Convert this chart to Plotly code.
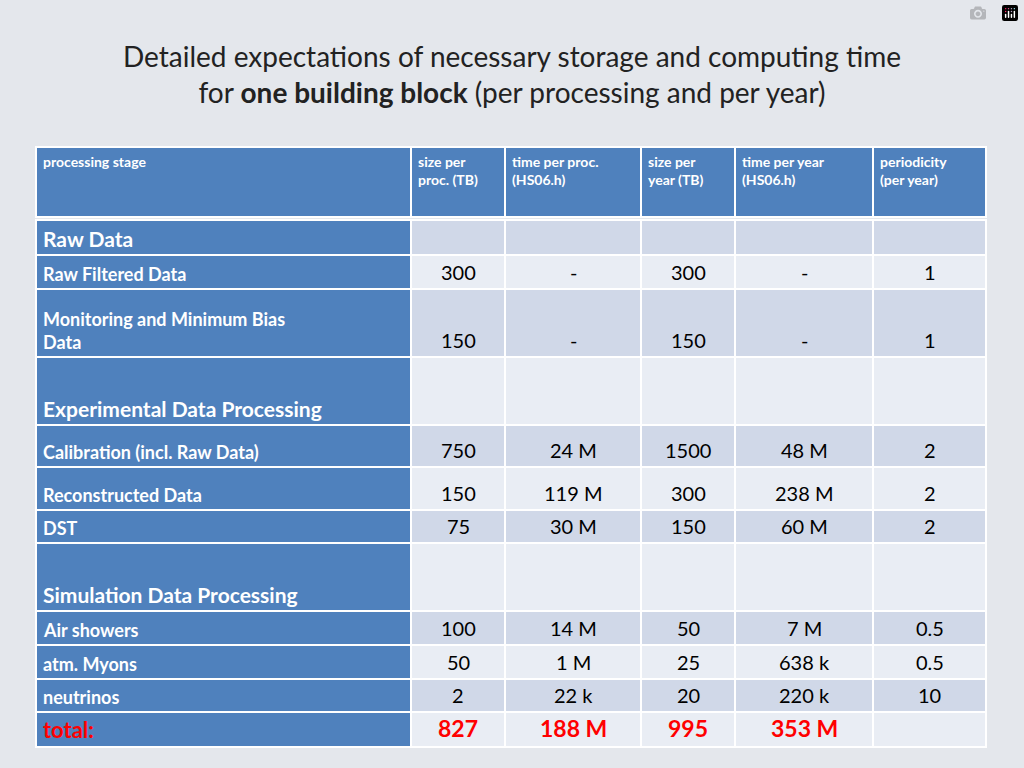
import plotly.graph_objects as go

# ---- data ----
TITLE1 = "Detailed expectations of necessary storage and computing time"
TITLE2 = "for <b>one building block</b> (per processing and per year)"
HEADERS = ["processing stage", "size per<br>proc. (TB)", "time per proc.<br>(HS06.h)",
           "size per<br>year (TB)", "time per year<br>(HS06.h)", "periodicity<br>(per year)"]
STAGES = ["Raw Data", "Raw Filtered Data", "Monitoring and Minimum Bias<br>Data",
          "Experimental Data Processing", "Calibration (incl. Raw Data)",
          "Reconstructed Data", "DST", "Simulation Data Processing",
          "Air showers", "atm. Myons", "neutrinos", "total:"]
SIZE_PROC = ["", "300", "150", "", "750", "150", "75", "", "100", "50", "2", "827"]
TIME_PROC = ["", "-", "-", "", "24 M", "119 M", "30 M", "", "14 M", "1 M", "22 k", "188 M"]
SIZE_YEAR = ["", "300", "150", "", "1500", "300", "150", "", "50", "25", "20", "995"]
TIME_YEAR = ["", "-", "-", "", "48 M", "238 M", "60 M", "", "7 M", "638 k", "220 k", "353 M"]
PERIOD = ["", "1", "1", "", "2", "2", "2", "", "0.5", "0.5", "10", ""]

# ---- layout (pixels) ----
COLS = [36, 411, 505, 641, 735, 873, 986]
HEAD = (147, 217)
ROWS = [220, 255, 289, 357, 425, 467, 510, 543, 611, 645, 679, 712, 747]
SECTION = {0, 3, 7}
BLUE = "#4f81bd"
FILLS = ["#d0d8e8", "#e9edf4"]

fig = go.Figure()
shapes, ann = [], []

def cell(x0, x1, y0, y1, color):
    shapes.append(dict(type="rect", xref="x", yref="y", x0=x0, x1=x1, y0=y0, y1=y1,
                       fillcolor=color, line=dict(color="white", width=2), layer="below"))

# header
for c in range(6):
    cell(COLS[c], COLS[c + 1], HEAD[0], HEAD[1], BLUE)
    ann.append(dict(x=COLS[c] + 5, y=HEAD[0] + 4, text=f"<b>{HEADERS[c]}</b>", xanchor="left",
                    yanchor="top", align="left", showarrow=False,
                    font=dict(family="Lato", size=14, color="white")))

cols = [SIZE_PROC, TIME_PROC, SIZE_YEAR, TIME_YEAR, PERIOD]
for r, stage in enumerate(STAGES):
    y0, y1 = ROWS[r], ROWS[r + 1]
    cell(COLS[0], COLS[1], y0, y1, BLUE)
    total = stage == "total:"
    size = 21 if r in SECTION else 18
    ann.append(dict(x=COLS[0] + 5, y=y1 - 2, text=f"<b>{stage}</b>", xanchor="left",
                    yanchor="bottom", align="left", showarrow=False,
                    font=dict(family="Lato", size=22 if total else size,
                              color="#ff0000" if total else "white")))
    for c in range(5):
        cell(COLS[c + 1], COLS[c + 2], y0, y1, FILLS[r % 2])
        v = cols[c][r]
        if v:
            ann.append(dict(x=(COLS[c + 1] + COLS[c + 2]) / 2, y=y1 - 3,
                            text=f"<b>{v}</b>" if total else v, xanchor="center",
                            yanchor="bottom", showarrow=False,
                            font=dict(family="Lato", size=23 if total else 20,
                                      color="#ff0000" if total else "black")))

ann.append(dict(x=512, y=74, text=TITLE1 + "<br>" + TITLE2, xanchor="center", yanchor="middle",
                showarrow=False, font=dict(family="Lato", size=28, color="#222222")))

fig.update_layout(width=1024, height=768, margin=dict(l=0, r=0, t=0, b=0),
                  paper_bgcolor="#e4e7ec", plot_bgcolor="#e4e7ec",
                  xaxis=dict(range=[0, 1024], visible=False, fixedrange=True),
                  yaxis=dict(range=[768, 0], visible=False, fixedrange=True),
                  shapes=shapes, annotations=ann, showlegend=False)
fig.write_html("out.html",
               post_script="document.body.style.margin='0';document.body.style.overflow='hidden';")
